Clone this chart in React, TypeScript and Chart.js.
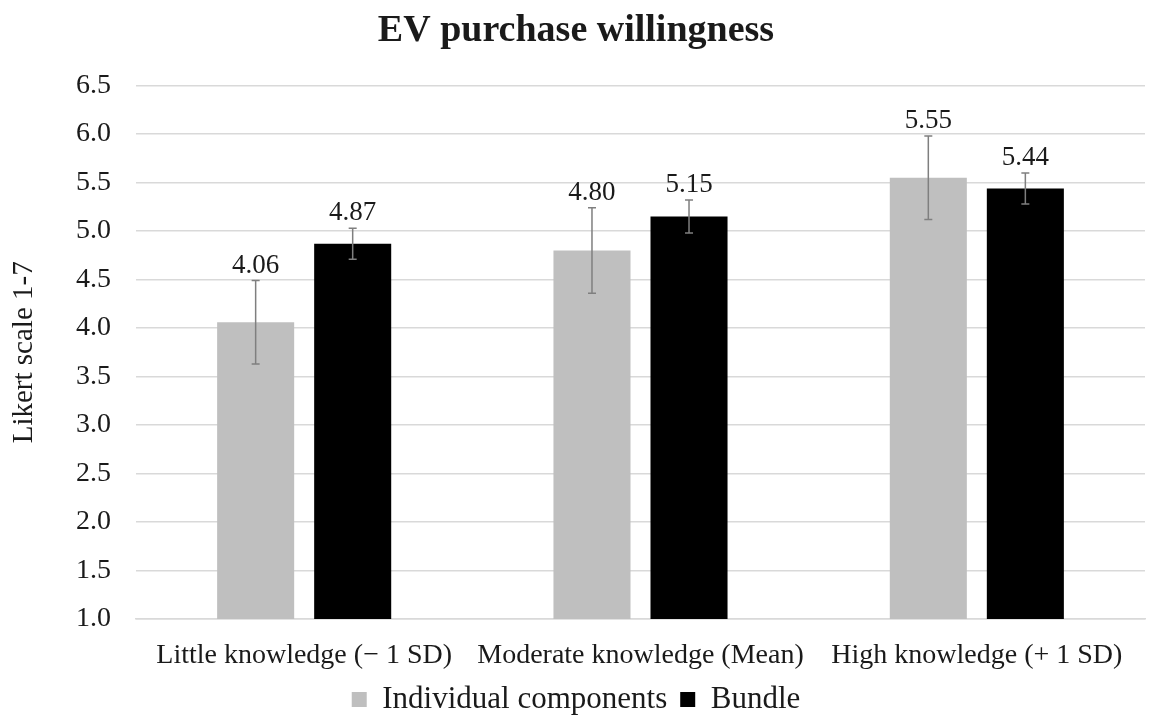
import React, { useEffect, useRef } from "react";
import { Chart, registerables } from "chart.js";

Chart.register(...registerables);

const categories = ["Little knowledge (\u2212 1 SD)", "Moderate knowledge (Mean)", "High knowledge (+ 1 SD)"];
const individualValues = [4.06, 4.8, 5.55];
const individualErrors = [0.43, 0.44, 0.43];
const bundleValues = [4.87, 5.15, 5.44];
const bundleErrors = [0.16, 0.17, 0.16];
const yTicks = [1.0, 1.5, 2.0, 2.5, 3.0, 3.5, 4.0, 4.5, 5.0, 5.5, 6.0, 6.5];

const FONT = "'Liberation Serif', 'Times New Roman', serif";

const errorBarPlugin = {
  id: "errorBars",
  afterDatasetsDraw(chart: any) {
    const ctx = chart.ctx;
    const yScale = chart.scales.y;
    chart.data.datasets.forEach((ds: any, di: number) => {
      const meta = chart.getDatasetMeta(di);
      const errs: number[] = ds.errors;
      meta.data.forEach((bar: any, i: number) => {
        const v = ds.data[i];
        const e = errs[i];
        const x = bar.x;
        const yTop = yScale.getPixelForValue(v + e);
        const yBot = yScale.getPixelForValue(v - e);
        ctx.save();
        ctx.strokeStyle = "#7f7f7f";
        ctx.lineWidth = 1.5;
        ctx.beginPath();
        ctx.moveTo(x, yTop);
        ctx.lineTo(x, yBot);
        ctx.moveTo(x - 4, yTop);
        ctx.lineTo(x + 4, yTop);
        ctx.moveTo(x - 4, yBot);
        ctx.lineTo(x + 4, yBot);
        ctx.stroke();
        ctx.fillStyle = "#1a1a1a";
        ctx.font = `27px ${FONT}`;
        ctx.textAlign = "center";
        ctx.textBaseline = "alphabetic";
        ctx.fillText(v.toFixed(2), x, yTop - 8);
        ctx.restore();
      });
    });
  },
};

export default function App() {
  const ref = useRef<HTMLCanvasElement | null>(null);
  useEffect(() => {
    if (!ref.current) return;
    const chart = new Chart(ref.current, {
      type: "bar",
      data: {
        labels: categories,
        datasets: [
          {
            label: "Individual components",
            data: individualValues,
            errors: individualErrors,
            backgroundColor: "#bfbfbf",
            categoryPercentage: 0.577,
            barPercentage: 0.794,
          } as any,
          {
            label: "Bundle",
            data: bundleValues,
            errors: bundleErrors,
            backgroundColor: "#000000",
            categoryPercentage: 0.577,
            barPercentage: 0.794,
          } as any,
        ],
      },
      options: {
        animation: false,
        responsive: false,
        maintainAspectRatio: false,
        layout: { padding: { left: 7, right: 8, top: 0, bottom: -4 } },
        plugins: {
          title: {
            display: true,
            text: "EV purchase willingness",
            color: "#1a1a1a",
            font: { family: FONT, size: 38, weight: "bold" },
            padding: { top: 8, bottom: 32 },
          },
          legend: {
            position: "bottom",
            labels: {
              color: "#1a1a1a",
              font: { family: FONT, size: 31 },
              boxWidth: 15,
              boxHeight: 15,
              padding: 13,
            },
          },
          tooltip: { enabled: false },
        },
        scales: {
          x: {
            grid: { display: false, drawTicks: false },
            border: { color: "#d9d9d9", width: 1.5 },
            afterFit(axis: any) {
              axis.height = 52;
              axis.paddingLeft = 0;
              axis.paddingRight = 0;
            },
            ticks: {
              color: "#1a1a1a",
              font: { family: FONT, size: 28 },
              padding: 20,
              minRotation: 0,
              maxRotation: 0,
              autoSkip: false,
            },
          },
          y: {
            min: 1,
            max: 6.5,
            afterBuildTicks(axis: any) {
              axis.ticks = yTicks.map((v) => ({ value: v }));
            },
            afterFit(axis: any) {
              axis.width = 129;
            },
            grid: { color: "#d9d9d9", lineWidth: 1.5, drawTicks: false },
            border: { display: false },
            ticks: {
              color: "#1a1a1a",
              font: { family: FONT, size: 28 },
              padding: 25,
              callback: (v: any) => Number(v).toFixed(1),
            },
            title: {
              display: true,
              text: "Likert scale 1-7",
              color: "#1a1a1a",
              font: { family: FONT, size: 29 },
              padding: { top: 0, bottom: 34 },
            },
          },
        },
      },
      plugins: [errorBarPlugin],
    });
    return () => chart.destroy();
  }, []);
  return (
    <div style={{ position: "absolute", left: 0, top: 0, width: 1153, height: 721, background: "#ffffff" }}>
      <canvas ref={ref} width={1153} height={721} />
    </div>
  );
}
